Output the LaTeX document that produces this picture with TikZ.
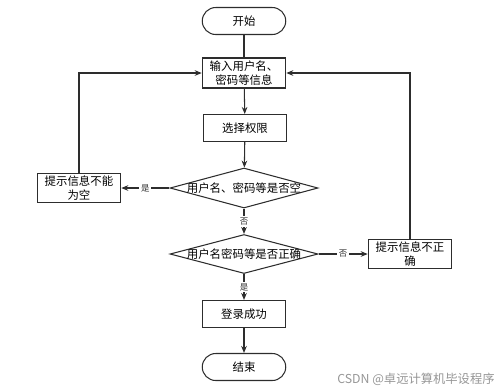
\documentclass[tikz,border=0pt]{standalone}
\usepackage{fontspec}
\setmainfont{Noto Sans CJK SC}
\usepackage{tikz}
\usetikzlibrary{arrows.meta, shapes.geometric}
\definecolor{linegray}{RGB}{45,45,45}
\definecolor{markgray}{RGB}{150,150,150}

\begin{document}
\begin{tikzpicture}[x=0.02cm, y=-0.02cm, >={Stealth[length=4pt, width=3.2pt]},
  box/.style={draw=linegray, fill=white, line width=0.6pt, minimum width=1.67cm,
              minimum height=0.54cm, inner sep=1pt, font=\fontsize{6.5}{8}\selectfont, align=center},
  term/.style={box, rounded corners=0.27cm},
  check/.style={draw=linegray, fill=white, line width=0.6pt, diamond, aspect=3.7, inner sep=0pt,
                minimum width=2.96cm, minimum height=0.8cm, font=\fontsize{6.5}{8}\selectfont},
  link/.style={->, draw=linegray, line width=0.6pt},
  tag/.style={fill=white, inner sep=1pt, font=\fontsize{4.8}{5}\selectfont, text=linegray}]
  \useasboundingbox (0,0) rectangle (500,390);

  % flow nodes
  \node[term] (start) at (244,21) {开始};
  \node[box, minimum height=0.6cm] (input) at (244,73) {输入用户名、\\密码等信息};
  \node[box] (select) at (245,128) {选择权限};
  \node[check] (check1) at (244,188) {\makebox[0pt]{用户名、密码等是否空}};
  \node[box] (warnEmpty) at (79,188) {提示信息不能\\为空};
  \node[check, minimum height=0.78cm] (check2) at (244,254) {\makebox[0pt]{用户名密码等是否正确}};
  \node[box] (warnWrong) at (410,254) {提示信息不正\\确};
  \node[box] (success) at (244,314) {登录成功};
  \node[term] (stop) at (244,367) {结束};

  % connectors
  \draw[draw=linegray, line width=0.6pt] (start) -- (input);
  \draw[link] (input) -- (select);
  \draw[link] (select) -- (check1);
  \draw[link] (check1.west) -- node[tag] {是} (warnEmpty.east);
  \draw[link] (check1.south) -- node[tag] {否} (check2.north);
  \draw[link] (check2.east) -- node[tag] {否} (warnWrong.west);
  \draw[link] (check2.south) -- node[tag] {是} (success.north);
  \draw[link] (success) -- (stop);
  \draw[link] (warnEmpty.north) |- (input.west);
  \draw[link] (warnWrong.north) |- (input.east);

  % watermark
  \node[text=markgray, font=\fontsize{7}{8}\selectfont] (mark) at (416,379) {CSDN @卓远计算机毕设程序};
\end{tikzpicture}
\end{document}
